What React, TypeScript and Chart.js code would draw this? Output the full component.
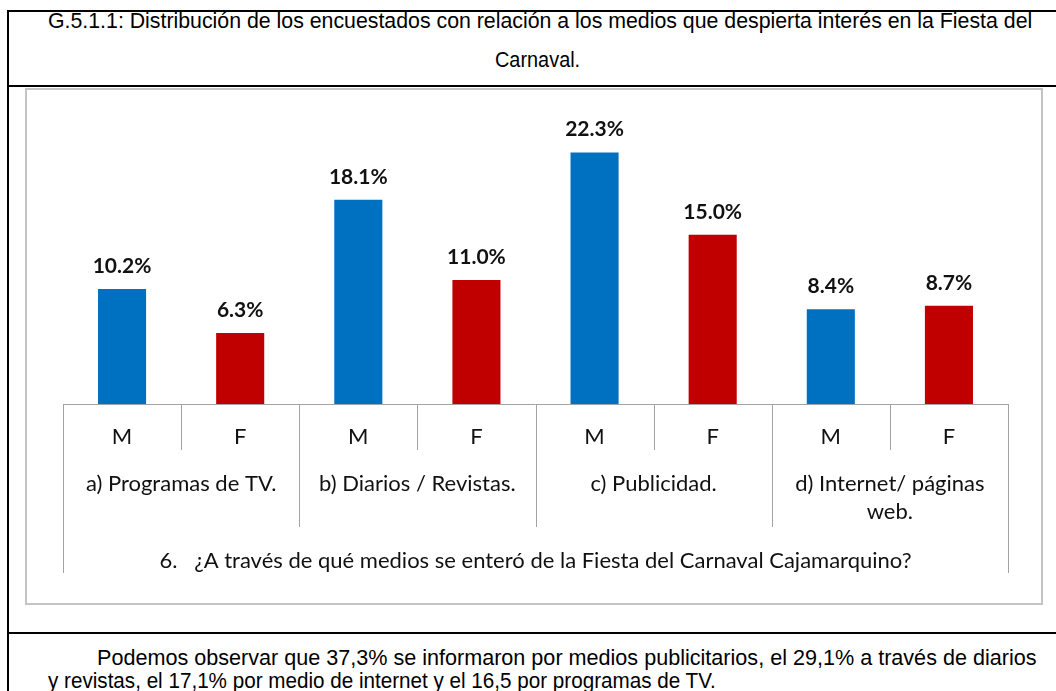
import React, { useEffect, useLayoutEffect, useRef, useState } from "react";
import { Chart, registerables } from "chart.js";

Chart.register(...registerables);

// ---------- data ----------
const groupLabels: string[][] = [
  ["a) Programas de TV."],
  ["b) Diarios / Revistas."],
  ["c) Publicidad."],
  ["d) Internet/ páginas", "web."],
];
const genderLabels: string[] = ["M", "F"];
const maleValues: number[] = [10.2, 18.1, 22.3, 8.4];
const femaleValues: number[] = [6.3, 11.0, 15.0, 8.7];
const questionLabel =
  "6.   ¿A través de qué medios se enteró de la Fiesta del Carnaval Cajamarquino?";
const titleLines: string[] = [
  "G.5.1.1: Distribución de los encuestados con relación a los medios que despierta interés en la Fiesta del",
  "Carnaval.",
];
const paragraphLines: string[] = [
  "Podemos observar que 37,3% se informaron por medios publicitarios, el 29,1% a través de diarios",
  "y revistas, el 17,1% por medio de internet y el 16,5 por programas de TV.",
];

const CHART_FONT = "Lato, 'Open Sans', 'Liberation Sans', sans-serif";

// ---------- helpers ----------
function FitText(props: {
  text: string;
  left: number;
  top: number;
  width: number;
  fontSize: number;
}) {
  const ref = useRef<HTMLSpanElement>(null);
  const [scale, setScale] = useState(1);
  useLayoutEffect(() => {
    if (ref.current) {
      const w = ref.current.offsetWidth;
      if (w > 0) setScale(props.width / w);
    }
  }, [props.text, props.width]);
  return (
    <span
      ref={ref}
      style={{
        position: "absolute",
        left: props.left,
        top: props.top,
        whiteSpace: "nowrap",
        fontFamily: "'Liberation Sans', Arial, sans-serif",
        fontSize: props.fontSize,
        lineHeight: props.fontSize + "px",
        color: "#000",
        transform: `scaleX(${scale})`,
        transformOrigin: "left top",
        display: "inline-block",
      }}
    >
      {props.text}
    </span>
  );
}

const multiAxisPlugin = {
  id: "multiAxis",
  afterDatasetsDraw(chart: any) {
    const { ctx, chartArea, scales } = chart;
    const xs = scales.x;
    const bottom = chartArea.bottom;
    const n = groupLabels.length;
    const gw = chartArea.width / n;
    const px = (v: number) => Math.round(v) + 0.5;

    ctx.save();
    ctx.strokeStyle = "#a3a3a3";
    ctx.lineWidth = 1;
    const line = (x1: number, y1: number, x2: number, y2: number) => {
      ctx.beginPath();
      ctx.moveTo(x1, y1);
      ctx.lineTo(x2, y2);
      ctx.stroke();
    };
    // base line
    line(chartArea.left, px(bottom), chartArea.right, px(bottom));

    for (let i = 0; i < n; i++) {
      const c = xs.getPixelForValue(i);
      const l = c - gw / 2;
      // inner separator between M and F
      line(px(c), bottom, px(c), bottom + 46);
      // group left boundary
      line(px(l), bottom, px(l), bottom + (i === 0 ? 169 : 123));
      if (i === n - 1) {
        const r = c + gw / 2;
        line(px(r), bottom, px(r), bottom + 169);
      }
    }

    ctx.fillStyle = "#111";
    ctx.textAlign = "center";
    ctx.textBaseline = "middle";
    ctx.font = `22px ${CHART_FONT}`;
    for (let i = 0; i < n; i++) {
      const c = xs.getPixelForValue(i);
      ctx.fillText(genderLabels[0], c - gw / 4, bottom + 33);
      ctx.fillText(genderLabels[1], c + gw / 4, bottom + 33);
      const lines = groupLabels[i];
      lines.forEach((t, k) => {
        ctx.fillText(t, c, bottom + 80 + k * 28);
      });
    }
    ctx.fillText(questionLabel, (chartArea.left + chartArea.right) / 2, bottom + 157);

    // value labels
    ctx.font = `bold 21px ${CHART_FONT}`;
    ctx.textBaseline = "alphabetic";
    chart.data.datasets.forEach((ds: any, di: number) => {
      const meta = chart.getDatasetMeta(di);
      meta.data.forEach((el: any, j: number) => {
        const v = ds.data[j] as number;
        ctx.fillText(v.toFixed(1) + "%", el.x, el.y - 16);
      });
    });
    ctx.restore();
  },
};

function BarChart() {
  const canvasRef = useRef<HTMLCanvasElement>(null);
  useEffect(() => {
    if (!canvasRef.current) return;
    const chart = new Chart(canvasRef.current, {
      type: "bar",
      data: {
        labels: groupLabels.map((g) => g.join(" ")),
        datasets: [
          {
            label: genderLabels[0],
            data: maleValues,
            backgroundColor: "#0070C0",
            categoryPercentage: 1,
            barPercentage: 0.407,
          },
          {
            label: genderLabels[1],
            data: femaleValues,
            backgroundColor: "#C00000",
            categoryPercentage: 1,
            barPercentage: 0.407,
          },
        ],
      },
      options: {
        animation: false,
        responsive: false,
        maintainAspectRatio: false,
        layout: { padding: { left: 36, right: 33, top: 32, bottom: 199 } },
        plugins: {
          legend: { display: false },
          tooltip: { enabled: false },
          title: { display: false },
        },
        scales: {
          x: { display: false },
          y: { display: false, min: 0, max: 25 },
        },
      },
      plugins: [multiAxisPlugin],
    });
    return () => chart.destroy();
  }, []);
  return (
    <canvas
      ref={canvasRef}
      width={1014}
      height={513}
      style={{ position: "absolute", left: 27, top: 90, width: 1014, height: 513 }}
    />
  );
}

export default function App() {
  return (
    <div
      style={{
        position: "absolute",
        left: 0,
        top: 0,
        width: 1056,
        height: 691,
        overflow: "hidden",
        background: "#fff",
      }}
    >
      {/* table borders */}
      <div style={{ position: "absolute", left: 7, top: 10, width: 1060, height: 2, background: "#000" }} />
      <div style={{ position: "absolute", left: 7, top: 10, width: 2, height: 700, background: "#000" }} />
      <div style={{ position: "absolute", left: 7, top: 85, width: 1060, height: 2, background: "#000" }} />
      <div style={{ position: "absolute", left: 7, top: 632, width: 1060, height: 2, background: "#000" }} />

      {/* title */}
      <FitText text={titleLines[0]} left={48} top={10} width={984} fontSize={22} />
      <FitText text={titleLines[1]} left={495} top={49} width={85} fontSize={22} />

      {/* chart frame */}
      <div
        style={{
          position: "absolute",
          left: 25,
          top: 88,
          width: 1014,
          height: 513,
          border: "2px solid #c4c4c4",
          background: "#fff",
        }}
      />
      <BarChart />

      {/* paragraph */}
      <FitText text={paragraphLines[0]} left={97} top={647} width={940} fontSize={22} />
      <FitText text={paragraphLines[1]} left={48} top={670} width={668} fontSize={22} />
    </div>
  );
}
